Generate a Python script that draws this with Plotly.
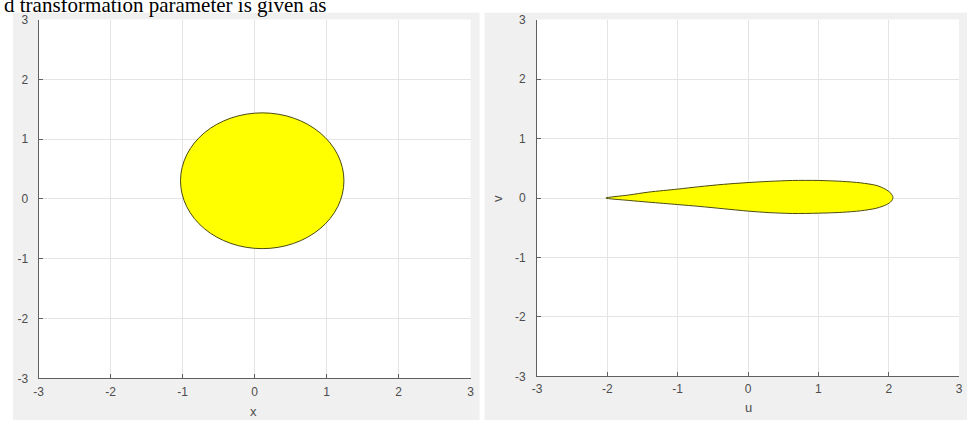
import plotly.graph_objects as go

W, H = 971, 427

# ---- data ----
ticks = [-3, -2, -1, 0, 1, 2, 3]
tick_text = ["-3", "-2", "-1", "0", "1", "2", "3"]

# circle in the z-plane (bounding box, data units)
circle_x0, circle_x1 = -1.03, 1.24
circle_y0, circle_y1 = -0.83, 1.44

# airfoil outline in the w-plane (upper surface tail->nose, lower nose->tail)
airfoil_u = [-2.02, -1.7, -1.41, -1.0, -0.70, -0.35, 0.0, 0.3, 0.63, 1.0, 1.34,
             1.6, 1.83, 1.95, 2.03, 2.06, 2.04, 1.97, 1.83, 1.6, 1.34, 1.0,
             0.63, 0.3, 0.0, -0.35, -0.70, -1.0, -1.41, -1.7, -2.02]
airfoil_v = [0.0, 0.05, 0.10, 0.15, 0.19, 0.23, 0.26, 0.28, 0.295, 0.295, 0.28,
             0.255, 0.21, 0.15, 0.08, 0.01, -0.05, -0.11, -0.17, -0.215, -0.24, -0.255,
             -0.26, -0.245, -0.22, -0.18, -0.14, -0.11, -0.07, -0.04, 0.0]

caption = "d transformation parameter is given as"


def px(x):
    return x / W


def py(y):
    return 1 - y / H


fig = go.Figure()
fig.add_trace(go.Scatter(x=[], y=[], xaxis="x", yaxis="y", showlegend=False))
fig.add_trace(go.Scatter(
    x=airfoil_u, y=airfoil_v, xaxis="x2", yaxis="y2", mode="lines",
    fill="toself", fillcolor="#ffff00",
    line=dict(color="#4a4a12", width=1, shape="spline", smoothing=0.8),
    showlegend=False, hoverinfo="skip"))

axis_common = dict(
    range=[-3, 3], tickvals=ticks, ticktext=tick_text, showgrid=True,
    gridcolor="#e4e4e4", gridwidth=1, zeroline=False, showline=True,
    linecolor="#606060", linewidth=1, ticks="inside", ticklen=4,
    tickcolor="#606060", tickfont=dict(family="Liberation Sans", size=12, color="#4d4d4d"),
    mirror=False, fixedrange=True,
)

fig.update_layout(
    width=W, height=H, margin=dict(l=0, r=0, t=0, b=0),
    paper_bgcolor="white", plot_bgcolor="rgba(0,0,0,0)",
    xaxis=dict(domain=[px(34), px(470)], anchor="y", ticklabelstandoff=2, **axis_common),
    yaxis=dict(domain=[py(384), py(13)], anchor="x", ticklabelstandoff=7, **axis_common),
    xaxis2=dict(domain=[px(537), px(963)], anchor="y2", ticklabelstandoff=1, **axis_common),
    yaxis2=dict(domain=[py(382), py(13)], anchor="x2", ticklabelstandoff=8, **axis_common),
    showlegend=False,
)

shapes = [
    dict(type="rect", xref="paper", yref="paper", x0=px(8), x1=px(479), y0=0, y1=py(6),
         fillcolor="#f0f0f0", line=dict(width=0), layer="below"),
    dict(type="rect", xref="paper", yref="paper", x0=px(484), x1=1, y0=0, y1=py(6),
         fillcolor="#f0f0f0", line=dict(width=0), layer="below"),
    dict(type="rect", xref="paper", yref="paper", x0=px(34), x1=px(470), y0=py(384), y1=py(13),
         fillcolor="white", line=dict(width=0), layer="below"),
    dict(type="rect", xref="paper", yref="paper", x0=px(537), x1=px(963), y0=py(382), y1=py(13),
         fillcolor="white", line=dict(width=0), layer="below"),
    dict(type="circle", xref="x", yref="y", x0=circle_x0, x1=circle_x1, y0=circle_y0, y1=circle_y1,
         fillcolor="#ffff00", line=dict(color="#4a4a12", width=1), layer="above"),
]
fig.update_layout(shapes=shapes)

lab_font = dict(family="Liberation Sans", size=13, color="#4d4d4d")
fig.update_layout(annotations=[
    dict(text="x", x=px(251), y=py(418), xref="paper", yref="paper", showarrow=False,
         font=lab_font, xanchor="center", yanchor="middle"),
    dict(text="u", x=px(750), y=py(414), xref="paper", yref="paper", showarrow=False,
         font=lab_font, xanchor="center", yanchor="middle"),
    dict(text="v", x=px(497), y=py(198), xref="paper", yref="paper", showarrow=False,
         font=lab_font, xanchor="center", yanchor="middle", textangle=-90),
    dict(text=caption, x=px(-2), y=py(11), xref="paper", yref="paper", showarrow=False,
         font=dict(family="Liberation Serif", size=21, color="black"),
         xanchor="left", yanchor="bottom", borderpad=0),
])

fig.write_html("out.html")
